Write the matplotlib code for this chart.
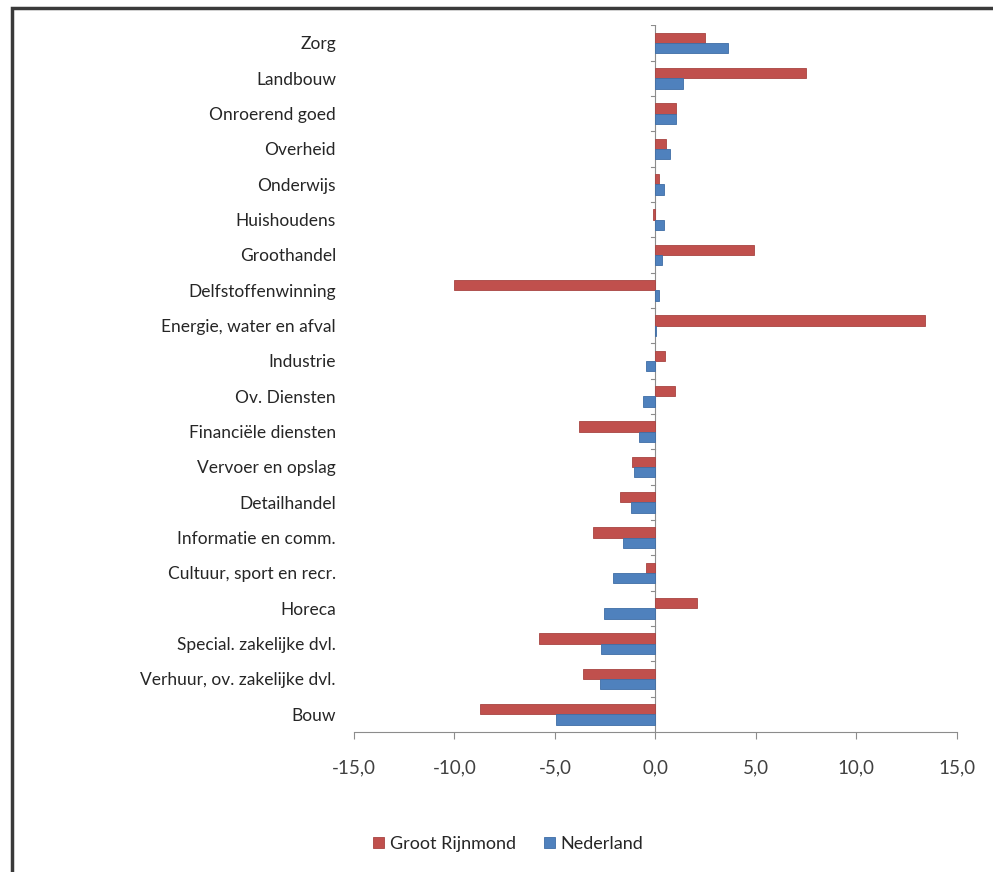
import numpy as np
import matplotlib.pyplot as plt
from matplotlib.patches import Rectangle

plt.rcParams['font.family'] = ['Lato', 'DejaVu Sans']

# sectors, top to bottom as shown
sectors = ['Zorg', 'Landbouw', 'Onroerend goed', 'Overheid', 'Onderwijs',
           'Huishoudens', 'Groothandel', 'Delfstoffenwinning',
           'Energie, water en afval', 'Industrie', 'Ov. Diensten',
           'Financiële diensten', 'Vervoer en opslag', 'Detailhandel',
           'Informatie en comm.', 'Cultuur, sport en recr.', 'Horeca',
           'Special. zakelijke dvl.', 'Verhuur, ov. zakelijke dvl.', 'Bouw']

groot_rijnmond = [2.45, 7.5, 1.05, 0.55, 0.2, -0.1, 4.9, -10.0, 13.4, 0.5,
                  1.0, -3.8, -1.15, -1.75, -3.1, -0.45, 2.05, -5.8, -3.6, -8.75]
nederland = [3.6, 1.35, 1.05, 0.75, 0.45, 0.45, 0.35, 0.2, 0.05, -0.45,
             -0.6, -0.8, -1.05, -1.2, -1.6, -2.1, -2.55, -2.7, -2.75, -4.95]

red = '#C0504D'
blue = '#4F81BD'

fig = plt.figure(figsize=(9.93, 8.72), dpi=100)
ax = fig.add_axes([0.3565, 0.1606, 0.607, 0.8104])

n = len(sectors)
y = np.arange(n)
h = 0.29
ax.barh(y - h / 2, groot_rijnmond, height=h, color=red, edgecolor='#A84441',
        linewidth=0.6, label='Groot Rijnmond')
ax.barh(y + h / 2, nederland, height=h, color=blue, edgecolor='#3F6DA5',
        linewidth=0.6, label='Nederland')

ax.set_xlim(-15, 15)
ax.set_ylim(n - 0.5, -0.5)
ax.set_xticks(np.arange(-15, 16, 5))
ax.set_xticklabels([f'{v:.1f}'.replace('.', ',') for v in np.arange(-15, 16, 5)],
                   fontsize=13.5, color='#404040')
ax.set_yticks(y)
ax.set_yticklabels(sectors, fontsize=12.5, color='#262626')
ax.tick_params(axis='y', length=0, pad=13)
ax.tick_params(axis='x', length=5, width=0.8, color='#8c8c8c', pad=15)

for s in ['top', 'right', 'left']:
    ax.spines[s].set_visible(False)
ax.spines['bottom'].set_color('#8c8c8c')

# category axis through zero with small separator ticks
ax.axvline(0, color='#8c8c8c', lw=0.8, zorder=0)
for b in np.arange(-0.5, n, 1.0):
    ax.plot([-0.2, 0], [b, b], color='#8c8c8c', lw=0.8, zorder=0)

fig.legend(loc='center', bbox_to_anchor=(0.512, 0.032), ncol=2, frameon=False,
           fontsize=13, handlelength=0.6, handleheight=0.6, handletextpad=0.3,
           columnspacing=1.6, labelcolor='#262626')

# outer frame
fig.patches.append(Rectangle((0.0125, -0.01), 1.0, 1.001, transform=fig.transFigure,
                             fill=False, edgecolor='#3a3a3a', lw=2.5))

fig.savefig('out.png', dpi=100)
